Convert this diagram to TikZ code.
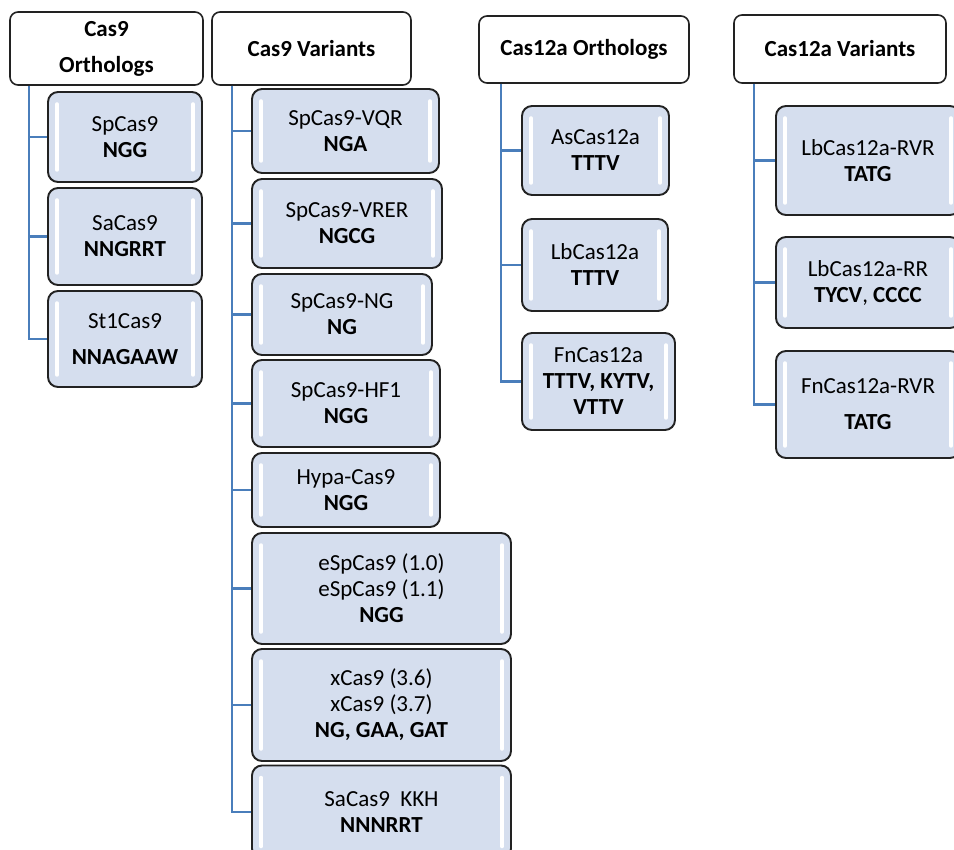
\documentclass[tikz,border=0pt]{standalone}
\usepackage{fontspec}
\setmainfont{Carlito}
\usetikzlibrary{positioning}

\definecolor{boxfill}{HTML}{D5DEEE}
\definecolor{boxline}{HTML}{222222}
\definecolor{linkblue}{HTML}{4A7EBB}

\begin{document}
\begin{tikzpicture}[x=1pt, y=-1pt,
  head/.style={draw=boxline, fill=white, line width=1.6pt, rounded corners=8pt,
    inner sep=0pt, align=center, font=\fontsize{23}{36}\selectfont\bfseries},
  item/.style={draw=boxline, fill=boxfill, line width=1.9pt, rounded corners=10pt,
    inner sep=0pt, align=center, font=\fontsize{23}{26}\selectfont,
    path picture={
      \draw[white, line width=3.5pt, line cap=round]
        ([xshift=9pt, yshift=-12pt]path picture bounding box.north west)
          -- ([xshift=9pt, yshift=12pt]path picture bounding box.south west)
        ([xshift=-9pt, yshift=-12pt]path picture bounding box.north east)
          -- ([xshift=-9pt, yshift=12pt]path picture bounding box.south east);
    }},
  spaced/.style={font=\fontsize{23}{36}\selectfont},
  link/.style={draw=linkblue, line width=2.2pt}]
\path[use as bounding box, clip] (0,0) rectangle (954,850);

% Cas9 orthologs
\node[head, minimum width=193, minimum height=73] (orth9) at (106.5,48.5) {Cas9\\Orthologs};
\node[item, minimum width=154, minimum height=90] (sp)  at (125,137)   {SpCas9\\\textbf{NGG}};
\node[item, minimum width=154, minimum height=97] (sa)  at (125,236.5) {SaCas9\\\textbf{NNGRRT}};
\node[item, spaced, minimum width=154, minimum height=96] (st1) at (125,339) {St1Cas9\\\textbf{NNAGAAW}};

% Cas9 variants
\node[head, minimum width=199, minimum height=73] (var9) at (311.5,48.5) {Cas9 Variants};
\node[item, minimum width=187, minimum height=84]  (vqr)  at (345.5,131)   {SpCas9-VQR\\\textbf{NGA}};
\node[item, minimum width=190, minimum height=89]  (vrer) at (347,223.5)   {SpCas9-VRER\\\textbf{NGCG}};
\node[item, minimum width=180, minimum height=81]  (ng)   at (342,314.5)   {SpCas9-NG\\\textbf{NG}};
\node[item, minimum width=188, minimum height=87]  (hf1)  at (346,403.5)   {SpCas9-HF1\\\textbf{NGG}};
\node[item, minimum width=188, minimum height=74]  (hypa) at (346,490)     {Hypa-Cas9\\\textbf{NGG}};
\node[item, minimum width=259, minimum height=111] (esp)  at (381.5,588.5) {eSpCas9 (1.0)\\eSpCas9 (1.1)\\\textbf{NGG}};
\node[item, minimum width=259, minimum height=112] (xcas) at (381.5,705)   {xCas9 (3.6)\\xCas9 (3.7)\\\textbf{NG, GAA, GAT}};
\node[item, minimum width=259, minimum height=93]  (kkh)  at (381.5,812)   {SaCas9\ \ KKH\\\textbf{NNNRRT}};

% Cas12a orthologs
\node[head, minimum width=210, minimum height=67] (orth12) at (584,49.5) {Cas12a Orthologs};
\node[item, minimum width=147, minimum height=89] (as) at (595.5,150.5) {AsCas12a\\\textbf{TTTV}};
\node[item, minimum width=146, minimum height=92] (lb) at (595,265)     {LbCas12a\\\textbf{TTTV}};
\node[item, minimum width=153, minimum height=97] (fn) at (598.5,381.5) {FnCas12a\\\textbf{TTTV, KYTV,}\\\textbf{VTTV}};

% Cas12a variants
\node[head, minimum width=212, minimum height=68] (var12) at (840,49) {Cas12a Variants};
\node[item, minimum width=184, minimum height=109] (lbrvr) at (868,160.5) {LbCas12a-RVR\\\textbf{TATG}};
\node[item, minimum width=184, minimum height=91]  (lbrr)  at (868,282.5) {LbCas12a-RR\\\textbf{TYCV}, \textbf{CCCC}};
\node[item, spaced, minimum width=184, minimum height=107] (fnrvr) at (868,404.5) {FnCas12a-RVR\\\textbf{TATG}};

% tree lines
\coordinate (t1) at ([xshift=20pt]orth9.south west);
\coordinate (t2) at ([xshift=21pt]var9.south west);
\coordinate (t3) at ([xshift=23pt]orth12.south west);
\coordinate (t4) at ([xshift=21pt]var12.south west);

\foreach \n in {sp,sa,st1} \draw[link] (t1) |- (\n.west);
\foreach \n in {vqr,vrer,ng,hf1,hypa,esp,xcas,kkh} \draw[link] (t2) |- (\n.west);
\foreach \n in {as,lb,fn} \draw[link] (t3) |- (\n.west);
\foreach \n in {lbrvr,lbrr,fnrvr} \draw[link] (t4) |- (\n.west);
\end{tikzpicture}
\end{document}
